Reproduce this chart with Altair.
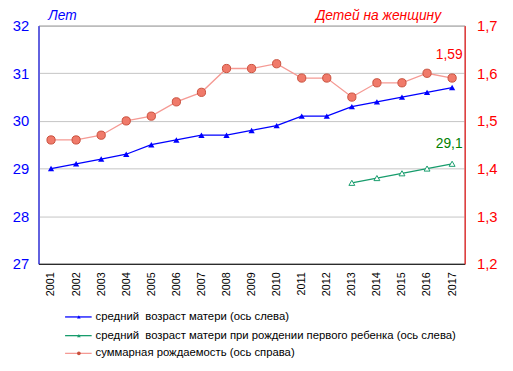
import altair as alt
import pandas as pd

years = [str(y) for y in range(2001, 2018)]
mean_age = [29.0, 29.1, 29.2, 29.3, 29.5, 29.6, 29.7, 29.7, 29.8, 29.9, 30.1, 30.1, 30.3, 30.4, 30.5, 30.6, 30.7]
first_years = ["2013", "2014", "2015", "2016", "2017"]
first_age = [28.7, 28.8, 28.9, 29.0, 29.1]
tfr = [1.46, 1.46, 1.47, 1.50, 1.51, 1.54, 1.56, 1.61, 1.61, 1.62, 1.59, 1.59, 1.55, 1.58, 1.58, 1.60, 1.59]

legend_labels = [
    "средний \u00a0возраст матери (ось слева)",
    "средний \u00a0возраст матери при рождении первого ребенка (ось слева)",
    "суммарная рождаемость (ось справа)",
]

BLUE = "#0000FF"
GREEN = "#179C6C"
RED_LINE = "#F59A94"
RED_FILL = "#F07A6A"
RED_STROKE = "#C8503C"
FONT = "Liberation Sans"

df_blue = pd.DataFrame({"year": years, "v": mean_age})
df_green = pd.DataFrame({"year": first_years, "v": first_age})
df_red = pd.DataFrame({"year": years, "v": tfr})

xenc = alt.X("year:N", sort=years, scale=alt.Scale(domain=years, paddingInner=0, paddingOuter=0),
             axis=alt.Axis(title=None, labelAngle=-90, labelColor="black", labelFont=FONT,
                           labelFontSize=11, tickSize=0, labelPadding=8, domainColor="black",
                           grid=False))

yleft = alt.Scale(domain=[27, 32], nice=False, zero=False)
yright = alt.Scale(domain=[1.2, 1.7], nice=False, zero=False)

left_axis = alt.Axis(title=None, values=[27, 28, 29, 30, 31, 32], labelColor=BLUE, labelFont=FONT,
                     labelFontSize=15, domainColor=BLUE, tickSize=0, labelPadding=10,
                     grid=True, gridColor="#C4C4C4", orient="left")
right_axis = alt.Axis(title=None, values=[1.2, 1.3, 1.4, 1.5, 1.6, 1.7], labelColor="#FF0000",
                      labelFont=FONT, labelFontSize=15, domainColor="#FF0000", tickSize=0,
                      labelPadding=12, grid=False, orient="right",
                      labelExpr="replace(format(datum.value, '.1f'), '.', ',')")

blue_line = alt.Chart(df_blue).mark_line(color=BLUE, strokeWidth=1.3).encode(
    x=xenc, y=alt.Y("v:Q", scale=yleft, axis=left_axis))
blue_pts = alt.Chart(df_blue).mark_point(shape="triangle-up", filled=True, color=BLUE, size=40, opacity=1).encode(
    x=xenc, y=alt.Y("v:Q", scale=yleft))
green_line = alt.Chart(df_green).mark_line(color=GREEN, strokeWidth=1.3).encode(
    x=xenc, y=alt.Y("v:Q", scale=yleft))
green_pts = alt.Chart(df_green).mark_point(shape="triangle-up", filled=False, fill="white", stroke=GREEN,
                                           strokeWidth=1, size=36, opacity=1).encode(
    x=xenc, y=alt.Y("v:Q", scale=yleft))
green_lbl = alt.Chart(df_green).transform_filter(alt.datum.year == "2017").mark_text(
    font=FONT, fontSize=14, color="#008000", dy=-20, dx=-3).encode(
    x=xenc, y=alt.Y("v:Q", scale=yleft), text=alt.value("29,1"))

left_layer = alt.layer(blue_line, blue_pts, green_line, green_pts, green_lbl)

red_line = alt.Chart(df_red).mark_line(color=RED_LINE, strokeWidth=1.3).encode(
    x=xenc, y=alt.Y("v:Q", scale=yright, axis=right_axis))
red_pts = alt.Chart(df_red).mark_point(shape="circle", filled=True, fill=RED_FILL, stroke=RED_STROKE,
                                       strokeWidth=1, size=70, opacity=1).encode(
    x=xenc, y=alt.Y("v:Q", scale=yright))
red_lbl = alt.Chart(df_red).transform_filter(alt.datum.year == "2017").mark_text(
    font=FONT, fontSize=14, color="#FF0000", dy=-23, dx=-3).encode(
    x=xenc, y=alt.Y("v:Q", scale=yright), text=alt.value("1,59"))

right_layer = alt.layer(red_line, red_pts, red_lbl)

# titles
t_left = alt.Chart(df_blue).transform_filter(alt.datum.year == "2001").mark_text(
    font=FONT, fontSize=14, fontStyle="italic", color=BLUE, align="left", baseline="alphabetic").encode(
    x=alt.value(10), y=alt.value(-6), text=alt.value("Лет"))
t_right = alt.Chart(df_blue).transform_filter(alt.datum.year == "2001").mark_text(
    font=FONT, fontSize=14, fontStyle="italic", color="#FF0000", align="right", baseline="alphabetic").encode(
    x=alt.value(409), y=alt.value(-6), text=alt.value("Детей на женщину"))

# legend
df_leg = pd.DataFrame({
    "label": legend_labels,
    "py": [296, 315, 333],
    "c": [BLUE, GREEN, RED_LINE],
    "pc": [BLUE, GREEN, RED_STROKE],
    "shape": ["triangle-up", "triangle-up", "circle"],
})
leg_rule = alt.Chart(df_leg).mark_rule(strokeWidth=1.3).encode(
    x=alt.value(27), x2=alt.value(54), y=alt.Y("py:Q", scale=None, axis=None),
    color=alt.Color("c:N", scale=None, legend=None))
leg_pts = alt.Chart(df_leg).mark_point(filled=True, size=14, opacity=1).encode(
    x=alt.value(41), y=alt.Y("py:Q", scale=None, axis=None),
    color=alt.Color("pc:N", scale=None, legend=None),
    shape=alt.Shape("shape:N", scale=None, legend=None))
leg_txt = alt.Chart(df_leg).mark_text(font=FONT, fontSize=11.5, color="black", align="left",
                                      baseline="middle").encode(
    x=alt.value(58), y=alt.Y("py:Q", scale=None, axis=None), text="label:N")

chart = alt.layer(left_layer, right_layer, t_left, t_right, leg_rule, leg_pts, leg_txt).resolve_scale(
    y="independent"
).properties(
    width=433, height=242,
    autosize=alt.AutoSizeParams(type="none"),
    padding={"left": 31, "top": 15, "right": 41, "bottom": 106},
    background="white",
).configure_view(stroke="#808080", strokeWidth=1)

chart.save("out.html", embed_options={"renderer": "svg", "actions": False})
